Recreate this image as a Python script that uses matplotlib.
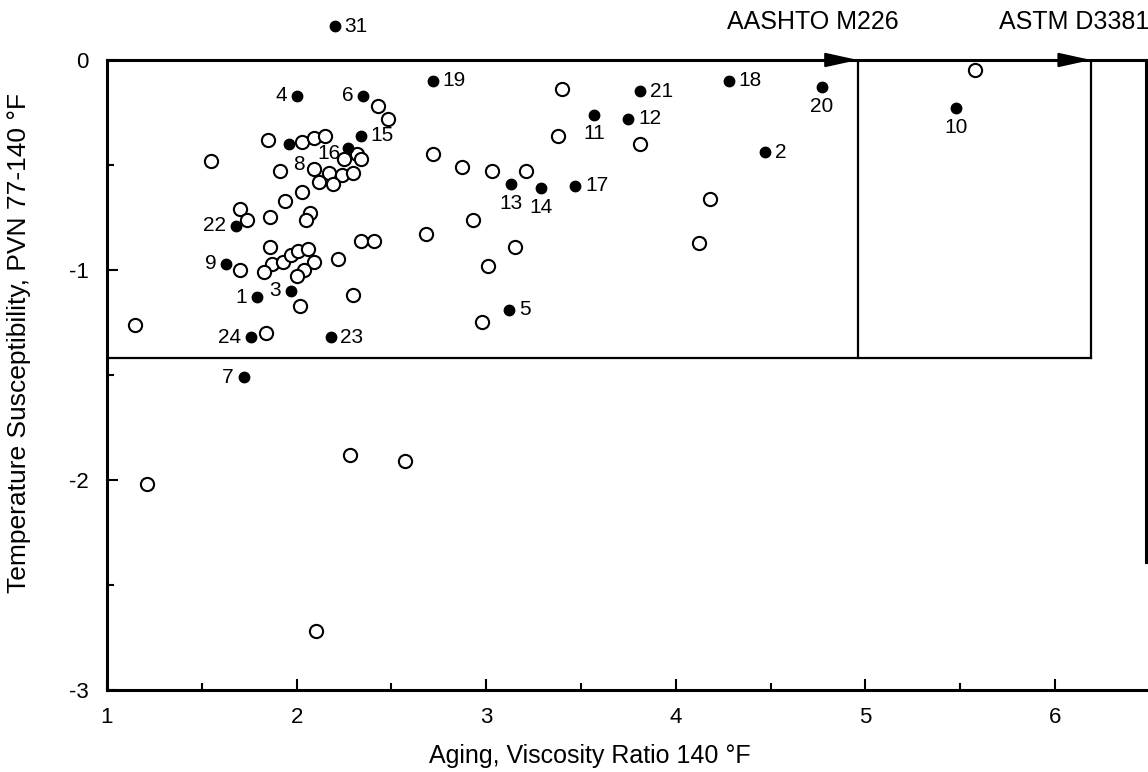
"""
Aging index vs temperature susceptibility scatter, with AASHTO M226 and
ASTM D3381 specification boxes.
"""

import matplotlib.pyplot as plt
from matplotlib.ticker import MultipleLocator

plt.rcParams["font.family"] = ["Liberation Sans", "DejaVu Sans"]
plt.rcParams["axes.unicode_minus"] = False

# Labelled asphalts (filled dots)
lab_ids = ["31", "4", "6", "19", "15", "8", "16", "22", "9", "1", "3", "24",
           "23", "7", "21", "11", "12", "18", "2", "13", "14", "17", "5",
           "20", "10"]
lab_x = [2.20, 2.00, 2.35, 2.72, 2.34, 1.96, 2.27, 1.68, 1.63, 1.79, 1.97,
         1.76, 2.18, 1.72, 3.81, 3.57, 3.75, 4.28, 4.47, 3.13, 3.29, 3.47,
         3.12, 4.77, 5.48]
lab_y = [0.16, -0.17, -0.17, -0.10, -0.36, -0.40, -0.42, -0.79, -0.97,
         -1.13, -1.10, -1.32, -1.32, -1.51, -0.15, -0.26, -0.28, -0.10,
         -0.44, -0.59, -0.61, -0.60, -1.19, -0.13, -0.23]
# where each number sits relative to its dot
lab_pos = ["right", "left", "left", "right", "right", "below_right", "left16",
           "left", "left", "left", "left", "left", "right", "left", "right",
           "below", "right", "right", "right", "below", "below", "right",
           "right", "below", "below"]

# Other asphalts (open circles)
open_x = [2.43, 2.48, 1.85, 2.03, 2.09, 2.15, 2.25, 2.32, 2.34, 1.55, 2.72,
          2.87, 3.03, 3.21, 1.91, 2.09, 2.17, 2.24, 2.30, 2.12, 2.19, 2.03,
          1.94, 1.70, 1.74, 1.86, 2.07, 2.05, 2.34, 2.41, 1.86, 2.22, 1.70,
          1.87, 1.83, 1.93, 1.97, 2.01, 2.06, 2.09, 2.04, 2.00, 2.02, 2.30,
          1.84, 1.15, 1.21, 2.28, 2.57, 2.10, 3.40, 3.38, 3.81, 4.18, 2.93,
          2.68, 3.15, 4.12, 3.01, 2.98, 5.58]
open_y = [-0.22, -0.28, -0.38, -0.39, -0.37, -0.36, -0.47, -0.45, -0.47,
          -0.48, -0.45, -0.51, -0.53, -0.53, -0.53, -0.52, -0.54, -0.55,
          -0.54, -0.58, -0.59, -0.63, -0.67, -0.71, -0.76, -0.75, -0.73,
          -0.76, -0.86, -0.86, -0.89, -0.95, -1.00, -0.97, -1.01, -0.96,
          -0.93, -0.91, -0.90, -0.96, -1.00, -1.03, -1.17, -1.12, -1.30,
          -1.26, -2.02, -1.88, -1.91, -2.72, -0.14, -0.36, -0.40, -0.66,
          -0.76, -0.83, -0.89, -0.87, -0.98, -1.25, -0.05]

# Specification limits
aashto_ratio = 4.96
astm_ratio = 6.19
pvn_min = -1.42

OFFSETS = {
    "right": ((7, 0), "left", "center"),
    "left": ((-7, 0), "right", "center"),
    "below": ((0, -7), "center", "top"),
    "below_right": ((7, -15), "center", "center"),
    "left16": ((-5, -4), "right", "center"),
}


def main():
    fig = plt.figure(figsize=(11.48, 7.72), dpi=100)
    ax = fig.add_axes([0.0932, 0.1062, 0.9051, 0.8161])
    ax.set_xlim(1, 6.48)
    ax.set_ylim(-3, 0)

    # spec boxes
    ax.plot([1, astm_ratio], [pvn_min, pvn_min], color="black", lw=1.6)
    ax.plot([aashto_ratio, aashto_ratio], [0, pvn_min], color="black", lw=1.6)
    ax.plot([astm_ratio, astm_ratio], [0, pvn_min], color="black", lw=1.6)
    for xe, xs in [(aashto_ratio, aashto_ratio - 0.16), (astm_ratio, astm_ratio - 0.16)]:
        ax.annotate("", xy=(xe, 0), xytext=(xs, 0),
                    arrowprops=dict(arrowstyle="-|>,head_length=1.0,head_width=0.22",
                                    mutation_scale=20, color="black", lw=1.5,
                                    shrinkA=0, shrinkB=0),
                    annotation_clip=False)
    ax.text(4.72, 0.18, "AASHTO M226", fontsize=18, ha="center", va="center")
    ax.text(6.10, 0.18, "ASTM D3381", fontsize=18, ha="center", va="center")

    ax.plot(open_x, open_y, "o", ms=9.5, mfc="white", mec="black", mew=1.5,
            clip_on=False, zorder=3)
    ax.plot(lab_x, lab_y, "o", ms=7.5, color="black", clip_on=False, zorder=4)

    for t, x, y, p in zip(lab_ids, lab_x, lab_y, lab_pos):
        off, ha, va = OFFSETS[p]
        ax.annotate(t, (x, y), xytext=off, textcoords="offset points",
                    ha=ha, va=va, fontsize=15, annotation_clip=False)

    # axes styling
    for s in ax.spines.values():
        s.set_linewidth(2.2)
    ax.spines["right"].set_bounds(-2.39, 0)
    ax.xaxis.set_major_locator(MultipleLocator(1))
    ax.xaxis.set_minor_locator(MultipleLocator(0.5))
    ax.yaxis.set_major_locator(MultipleLocator(1))
    ax.yaxis.set_minor_locator(MultipleLocator(0.5))
    ax.tick_params(which="both", direction="in", top=False, right=False,
                   width=1.5, labelsize=16)
    ax.tick_params(which="major", length=8)
    ax.tick_params(which="minor", length=5)
    ax.tick_params(axis="x", pad=12)
    ax.tick_params(axis="y", pad=13)

    ax.set_xlabel("Aging, Viscosity Ratio 140 °F", fontsize=18)
    ax.xaxis.set_label_coords(0.465, -0.085)
    ax.set_ylabel("Temperature Susceptibility, PVN 77-140 °F", fontsize=19)
    ax.yaxis.set_label_coords(-0.073, 0.55)

    fig.savefig("out.png", dpi=100, facecolor="white")


if __name__ == "__main__":
    main()
